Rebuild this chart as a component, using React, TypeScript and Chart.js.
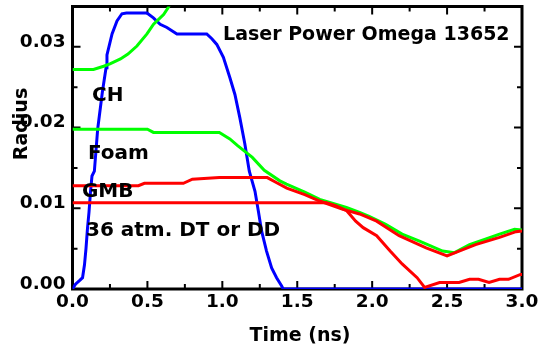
import React, { useEffect, useRef } from "react";
import { Chart, registerables } from "chart.js";

Chart.register(...registerables);

// ---- data ----
const laserTime = [0, 0.02, 0.05, 0.067, 0.08, 0.09, 0.1, 0.11, 0.12, 0.13, 0.146, 0.168, 0.2, 0.224, 0.23, 0.264, 0.297, 0.33, 0.36, 0.497, 0.54, 0.585, 0.63, 0.697, 0.896, 0.93, 0.963, 1.007, 1.05, 1.084, 1.117, 1.15, 1.18, 1.218, 1.24, 1.262, 1.295, 1.329, 1.362, 1.395, 1.406, 3.0];
const laserPower = [0, 0.0006, 0.0011, 0.0014, 0.003, 0.005, 0.0075, 0.0095, 0.012, 0.014, 0.0146, 0.0198, 0.0245, 0.0274, 0.029, 0.0316, 0.0332, 0.0341, 0.0342, 0.0342, 0.0336, 0.0328, 0.0324, 0.0316, 0.0316, 0.031, 0.0303, 0.0287, 0.0262, 0.0241, 0.0212, 0.018, 0.0146, 0.0121, 0.0097, 0.0072, 0.0047, 0.0026, 0.0014, 0.0004, 0, 0];

const chTime = [0, 0.14, 0.208, 0.25, 0.32, 0.37, 0.43, 0.497, 0.541, 0.608, 0.64, 0.7, 0.8];
const chRadius = [0.0272, 0.0272, 0.0276, 0.0279, 0.0285, 0.0291, 0.0301, 0.0316, 0.0328, 0.034, 0.0349, 0.0375, 0.041];

const foamTime = [0, 0.5, 0.54, 0.98, 1.05, 1.1, 1.2, 1.28, 1.384, 1.428, 1.55, 1.65, 1.828, 1.916, 1.98, 2.09, 2.2, 2.32, 2.47, 2.55, 2.65, 2.76, 2.85, 2.95, 3.0];
const foamRadius = [0.0198, 0.0198, 0.0194, 0.0194, 0.0186, 0.0178, 0.0163, 0.0147, 0.0134, 0.013, 0.012, 0.0111, 0.0101, 0.0095, 0.009, 0.008, 0.0068, 0.0059, 0.0047, 0.0045, 0.0055, 0.0062, 0.0068, 0.0074, 0.0073];

const gmbTime = [0, 0.44, 0.48, 0.74, 0.8, 0.98, 1.3, 1.36, 1.43, 1.55, 1.65, 1.8, 1.916, 2.03, 2.18, 2.36, 2.5, 2.58, 2.69, 2.85, 2.96, 3.0];
const gmbRadius = [0.0128, 0.0128, 0.0131, 0.0131, 0.0136, 0.0138, 0.0138, 0.0132, 0.0125, 0.0117, 0.0109, 0.0099, 0.0093, 0.0084, 0.0066, 0.0051, 0.0041, 0.0047, 0.0055, 0.0064, 0.0071, 0.0072];

const gasTime = [0, 1.695, 1.76, 1.83, 1.89, 1.94, 2.03, 2.12, 2.2, 2.3, 2.35, 2.45, 2.58, 2.65, 2.71, 2.78, 2.85, 2.91, 2.99, 3.0];
const gasRadius = [0.0107, 0.0107, 0.0103, 0.0097, 0.0084, 0.0076, 0.0066, 0.0047, 0.0031, 0.0014, 0.0002, 0.0008, 0.0008, 0.0012, 0.0012, 0.0008, 0.0012, 0.0012, 0.0018, 0.0018];

const xMajorTicks = [0, 0.5, 1.0, 1.5, 2.0, 2.5, 3.0];
const xMinorTicks = [0.25, 0.75, 1.25, 1.75, 2.25, 2.75];
const yMajorTicks = [0, 0.01, 0.02, 0.03];
const yMinorTicks = [0.005, 0.015, 0.025];

const plotTitle = "Laser Power Omega 13652";
const curveLabels = ["CH", "Foam", "GMB", "36 atm. DT or DD"];
const xTitle = "Time (ns)";
const yTitle = "Radius";

const FONT = "'DejaVu Sans', sans-serif";

const zip = (xs: number[], ys: number[]) => xs.map((x, i) => ({ x, y: ys[i] }));

const framePlugin = {
  id: "frame",
  beforeDatasetsDraw(chart: any) {
    const { ctx, chartArea: a, scales } = chart;
    const x = scales.x;
    const y = scales.y;
    ctx.save();
    ctx.strokeStyle = "#000";
    ctx.lineWidth = 3;
    ctx.strokeRect(a.left, a.top, a.right - a.left, a.bottom - a.top);
    ctx.lineWidth = 2;
    ctx.beginPath();
    const xt = (v: number, len: number) => {
      const px = x.getPixelForValue(v);
      ctx.moveTo(px, a.bottom);
      ctx.lineTo(px, a.bottom - len);
      ctx.moveTo(px, a.top);
      ctx.lineTo(px, a.top + len);
    };
    const yt = (v: number, len: number) => {
      const py = y.getPixelForValue(v);
      ctx.moveTo(a.left, py);
      ctx.lineTo(a.left + len, py);
      ctx.moveTo(a.right, py);
      ctx.lineTo(a.right - len, py);
    };
    xMajorTicks.forEach((v) => xt(v, 8));
    xMinorTicks.forEach((v) => xt(v, 5));
    yMajorTicks.forEach((v) => yt(v, 8));
    yMinorTicks.forEach((v) => yt(v, 5));
    ctx.stroke();
    ctx.restore();
  },
  afterDatasetsDraw(chart: any) {
    const { ctx, scales } = chart;
    const x = scales.x;
    const y = scales.y;
    ctx.save();
    ctx.fillStyle = "#000";
    ctx.textBaseline = "middle";
    ctx.textAlign = "left";
    ctx.font = `bold 19px ${FONT}`;
    ctx.fillText(plotTitle, x.getPixelForValue(1.005), y.getPixelForValue(0.0315));
    ctx.font = `bold 20px ${FONT}`;
    const pos = [
      [0.13, 0.0239],
      [0.103, 0.0167],
      [0.063, 0.012],
      [0.09, 0.0072],
    ];
    curveLabels.forEach((t, i) => {
      ctx.fillText(t, x.getPixelForValue(pos[i][0]), y.getPixelForValue(pos[i][1]));
    });
    // axis titles
    ctx.font = `bold 19px ${FONT}`;
    ctx.textAlign = "center";
    ctx.fillText(xTitle, 300, 336);
    ctx.save();
    ctx.translate(22, 124);
    ctx.rotate(-Math.PI / 2);
    ctx.fillText(yTitle, 0, 0);
    ctx.restore();
    ctx.restore();
  },
};

export default function App() {
  const ref = useRef<HTMLCanvasElement | null>(null);
  useEffect(() => {
    if (!ref.current) return;
    const line = (data: any, color: string) => ({
      data,
      borderColor: color,
      backgroundColor: color,
      borderWidth: 3,
      pointRadius: 0,
      tension: 0,
      fill: false,
    });
    const chart = new Chart(ref.current, {
      type: "line",
      data: {
        datasets: [
          line(zip(gasTime, gasRadius), "#ff0000"),
          line(zip(gmbTime, gmbRadius), "#ff0000"),
          line(zip(foamTime, foamRadius), "#00ff00"),
          line(zip(chTime, chRadius), "#00ff00"),
          line(zip(laserTime, laserPower), "#0000ff"),
        ],
      },
      options: {
        animation: false,
        responsive: false,
        events: [],
        layout: { padding: { left: 0, top: 6.5, right: 24, bottom: 0 } },
        plugins: { legend: { display: false }, tooltip: { enabled: false } },
        scales: {
          x: {
            type: "linear",
            min: 0,
            max: 3,
            grid: { display: false, drawTicks: false },
            border: { display: false },
            afterBuildTicks: (s: any) => {
              s.ticks = xMajorTicks.map((v) => ({ value: v }));
            },
            afterFit: (s: any) => {
              s.height = 61;
              s.paddingLeft = 0;
              s.paddingRight = 0;
            },
            ticks: {
              color: "#000",
              padding: 2,
              maxRotation: 0,
              autoSkip: false,
              font: { family: FONT, size: 18.5, weight: "bold" },
              callback: (v: any) => Number(v).toFixed(1),
            },
          },
          y: {
            type: "linear",
            min: 0,
            max: 0.035,
            grid: { display: false, drawTicks: false },
            border: { display: false },
            afterBuildTicks: (s: any) => {
              s.ticks = yMajorTicks.map((v) => ({ value: v }));
            },
            afterFit: (s: any) => {
              s.width = 72.5;
              s.paddingTop = 0;
              s.paddingBottom = 0;
            },
            ticks: {
              color: "#000",
              padding: 7,
              labelOffset: -5,
              autoSkip: false,
              font: { family: FONT, size: 18.5, weight: "bold" },
              callback: (v: any) => Number(v).toFixed(2),
            },
          },
        },
      },
      plugins: [framePlugin],
    } as any);
    return () => chart.destroy();
  }, []);
  return (
    <div style={{ position: "fixed", left: 0, top: 0, width: 546, height: 350, background: "#fff" }}>
      <canvas ref={ref} width={546} height={350} />
    </div>
  );
}
